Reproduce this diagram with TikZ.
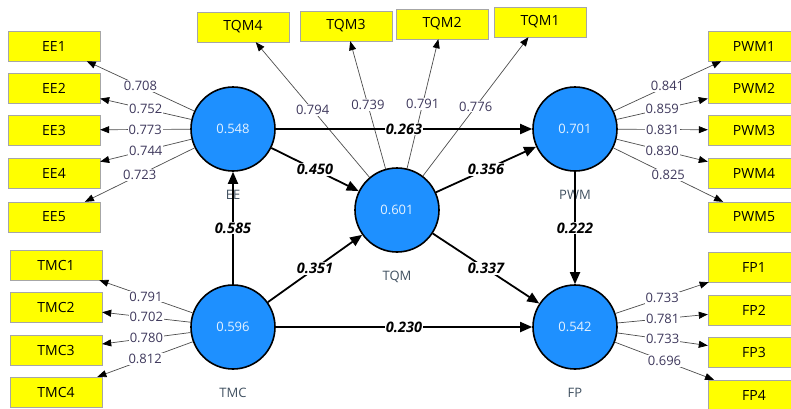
\documentclass[tikz,border=0pt]{standalone}
\usepackage{fontspec}
\setmainfont{Open Sans}
\usetikzlibrary{arrows.meta}
\definecolor{lvblue}{RGB}{30,144,255}
\definecolor{itemyellow}{RGB}{255,255,0}
\definecolor{loadtext}{RGB}{62,56,92}
\definecolor{nametext}{RGB}{64,80,96}
\begin{document}
\begin{tikzpicture}[
  x=1pt, y=-1pt,
  latent/.style={circle, draw, line width=1.6pt, fill=lvblue, minimum size=84pt, inner sep=0pt, text=white!88!lvblue, font=\fontsize{13}{15}\selectfont},
  item/.style={rectangle, draw=black!35, fill=itemyellow, minimum width=92pt, minimum height=30pt, inner sep=0pt, font=\fontsize{14}{16}\selectfont},
  load/.style={-{Triangle[length=9pt,width=7pt,color=black]}, draw=black!70, line width=0.7pt},
  effect/.style={-{Triangle[length=12pt,width=10pt]}, line width=1.8pt},
  lbl/.style={fill=white, inner sep=1pt, text=loadtext, font=\fontsize{13}{15}\selectfont},
  coef/.style={fill=white, inner sep=1pt, font=\bfseries\itshape\fontsize{14.5}{16}\selectfont},
  lvname/.style={text=nametext, font=\fontsize{13}{15}\selectfont}
]
\useasboundingbox (0,0) rectangle (791,408);

% Latent variables
\node[latent] (EE) at (233,129) {0.548};
\node[latent] (TQM) at (397,210) {0.601};
\node[latent] (PWM) at (575,129) {0.701};
\node[latent] (TMC) at (233,327) {0.596};
\node[latent] (FP) at (575,327) {0.542};

\node[lvname] (EEname) at (233,195) {EE};
\node[lvname] (TQMname) at (397,277) {TQM};
\node[lvname] (PWMname) at (575,195) {PWM};
\node[lvname] (TMCname) at (233,393) {TMC};
\node[lvname] (FPname) at (575,393) {FP};

% Indicators
\node[item] (EE1) at (54,46) {EE1};
\node[item] (EE2) at (54,88) {EE2};
\node[item] (EE3) at (54,130) {EE3};
\node[item] (EE4) at (54,173) {EE4};
\node[item] (EE5) at (54,217) {EE5};

\node[item] (TMC1) at (56,265) {TMC1};
\node[item] (TMC2) at (56,307) {TMC2};
\node[item] (TMC3) at (56,350) {TMC3};
\node[item] (TMC4) at (56,392) {TMC4};

\node[item] (TQM4) at (243,27) {TQM4};
\node[item] (TQM3) at (346,26) {TQM3};
\node[item] (TQM2) at (442,24) {TQM2};
\node[item] (TQM1) at (540,22) {TQM1};

\node[item] (PWM1) at (754,46) {PWM1};
\node[item] (PWM2) at (754,88) {PWM2};
\node[item] (PWM3) at (754,130) {PWM3};
\node[item] (PWM4) at (754,173) {PWM4};
\node[item] (PWM5) at (754,217) {PWM5};

\node[item] (FP1) at (754,267) {FP1};
\node[item] (FP2) at (754,310) {FP2};
\node[item] (FP3) at (754,352) {FP3};
\node[item] (FP4) at (754,395) {FP4};

% Loadings
\draw[load] (EE) -- node[lbl] {0.708} (EE1);
\draw[load] (EE) -- node[lbl] {0.752} (EE2);
\draw[load] (EE) -- node[lbl] {0.773} (EE3);
\draw[load] (EE) -- node[lbl] {0.744} (EE4);
\draw[load] (EE) -- node[lbl] {0.723} (EE5);

\draw[load] (TMC) -- node[lbl] {0.791} (TMC1);
\draw[load] (TMC) -- node[lbl] {0.702} (TMC2);
\draw[load] (TMC) -- node[lbl] {0.780} (TMC3);
\draw[load] (TMC) -- node[lbl] {0.812} (TMC4);

\draw[load] (TQM) -- node[lbl] {0.794} (TQM4);
\draw[load] (TQM) -- node[lbl] {0.739} (TQM3);
\draw[load] (TQM) -- node[lbl] {0.791} (TQM2);
\draw[load] (TQM) -- node[lbl] {0.776} (TQM1);

\draw[load] (PWM) -- node[lbl] {0.841} (PWM1);
\draw[load] (PWM) -- node[lbl] {0.859} (PWM2);
\draw[load] (PWM) -- node[lbl] {0.831} (PWM3);
\draw[load] (PWM) -- node[lbl] {0.830} (PWM4);
\draw[load] (PWM) -- node[lbl] {0.825} (PWM5);

\draw[load] (FP) -- node[lbl] {0.733} (FP1);
\draw[load] (FP) -- node[lbl] {0.781} (FP2);
\draw[load] (FP) -- node[lbl] {0.733} (FP3);
\draw[load] (FP) -- node[lbl] {0.696} (FP4);

% Paths
\draw[effect] (EE) -- node[coef] {0.263} (PWM);
\draw[effect] (EE) -- node[coef] {0.450} (TQM);
\draw[effect] (TQM) -- node[coef] {0.356} (PWM);
\draw[effect] (TMC) -- node[coef] {0.585} (EE);
\draw[effect] (TMC) -- node[coef] {0.351} (TQM);
\draw[effect] (TQM) -- node[coef] {0.337} (FP);
\draw[effect] (TMC) -- node[coef] {0.230} (FP);
\draw[effect] (PWM) -- node[coef] {0.222} (FP);

\end{tikzpicture}
\end{document}
